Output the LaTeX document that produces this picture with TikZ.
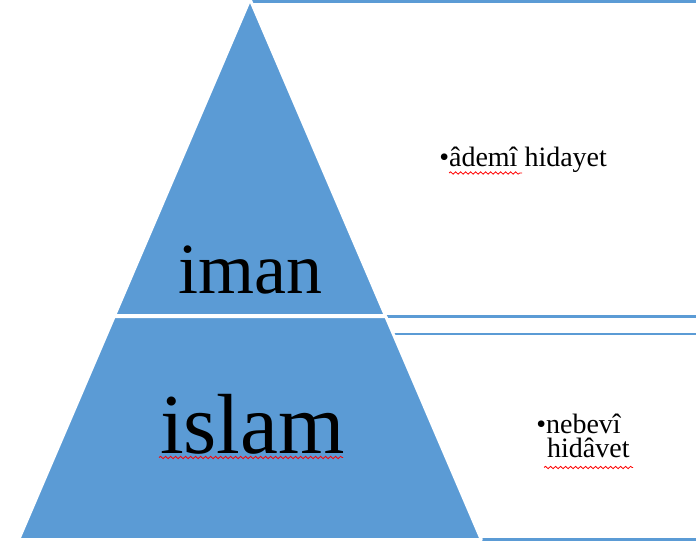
\documentclass[tikz,border=0pt]{standalone}
\usepackage{fontspec}
\setmainfont{Liberation Serif}
\usetikzlibrary{decorations.pathmorphing}
\definecolor{pblue}{HTML}{5B9BD5}
\begin{document}
\begin{tikzpicture}[x=0.75pt,y=-0.75pt,
  boxline/.style={draw=pblue, line width=1.9pt, fill=white},
  tier/.style={fill=pblue, draw=white, line width=2.25pt, line join=round},
  squig/.style={draw=red, line width=0.6pt, decorate, decoration={snake, amplitude=0.9pt, segment length=3.75pt}},
  lbl/.style={inner sep=0pt, anchor=base west, font=\fontsize{21}{18}\selectfont},
  big/.style={inner sep=0pt, anchor=base}]
\useasboundingbox (0,0) rectangle (696,542);
\clip (0,0) rectangle (696,542);
% list boxes (right edges run off the picture)
\draw[boxline] (251,1.5) rectangle (720,316.5);
\draw[boxline] (251,334) rectangle (720,539.5);
% pyramid tiers
\draw[tier] (250,-0.8) -- (385.4,315.5) -- (114.6,315.5) -- cycle;
\draw[tier] (114.2,316.5) -- (385.8,316.5) -- (481.3,539.5) -- (18.7,539.5) -- cycle;
% labels
\node[big, font=\fontsize{54}{60}\selectfont] (iman) at (250.5,293) {iman};
\node[big, font=\fontsize{64}{72}\selectfont] (islam) at (252.5,453) {islam};
\node[lbl] (ademi) at (439,166) {•âdemî hidayet};
\node[lbl, align=left] (nebevi) at (536,457) {•nebevî\\\hspace*{8.2pt}hidâvet};
% spell-check squiggles
\draw[squig] (159,457.5) -- (343,457.5);
\draw[squig] (449,173) -- (522,173);
\draw[squig] (544,467.5) -- (633,467.5);
\end{tikzpicture}
\end{document}
